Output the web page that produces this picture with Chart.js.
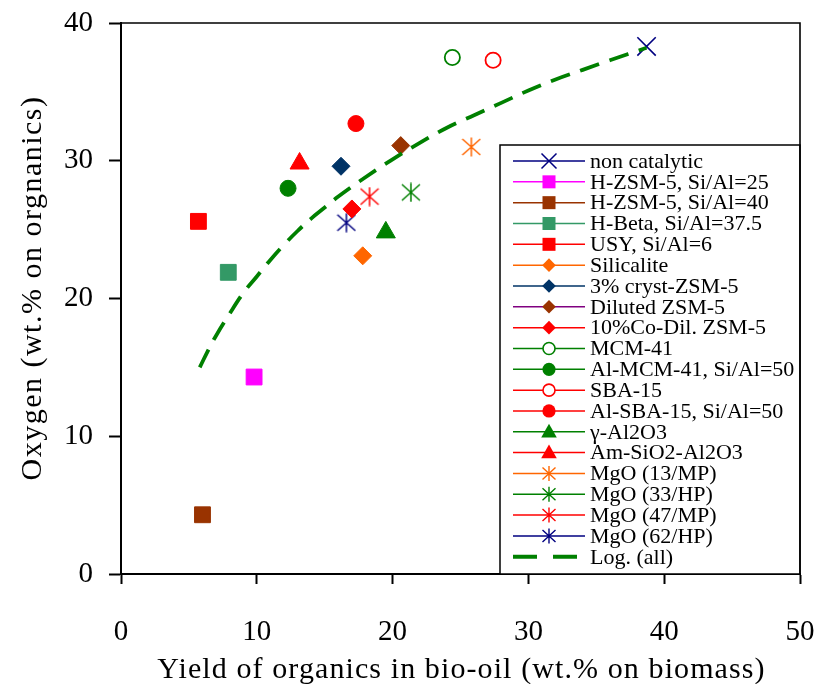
<!DOCTYPE html>
<html>
<head>
<meta charset="utf-8">
<script src="https://cdn.jsdelivr.net/npm/chart.js@4.4.1/dist/chart.umd.min.js"></script>
<style>
  html, body { margin: 0; padding: 0; background: #ffffff; }
  #wrap { width: 819px; height: 684px; }
</style>
</head>
<body>
<div id="wrap"><canvas id="c" width="819" height="684"></canvas></div>
<script>
// ---- data ----
const seriesNames = [
  'non catalytic', 'H-ZSM-5, Si/Al=25', 'H-ZSM-5, Si/Al=40', 'H-Beta, Si/Al=37.5',
  'USY, Si/Al=6', 'Silicalite', '3% cryst-ZSM-5', 'Diluted ZSM-5', '10%Co-Dil. ZSM-5',
  'MCM-41', 'Al-MCM-41, Si/Al=50', 'SBA-15', 'Al-SBA-15, Si/Al=50', '\u03b3-Al2O3',
  'Am-SiO2-Al2O3', 'MgO (13/MP)', 'MgO (33/HP)', 'MgO (47/MP)', 'MgO (62/HP)'
];
const yieldValues  = [38.7, 9.8, 6.0, 7.9, 5.7, 17.8, 16.2, 20.6, 17.0, 24.4, 12.3, 27.4, 17.3, 19.5, 13.15, 25.8, 21.35, 18.3, 16.6];
const oxygenValues = [38.3, 14.3, 4.3, 21.9, 25.6, 23.1, 29.6, 31.1, 26.5, 37.5, 28.0, 37.3, 32.7, 24.8, 29.8, 31.0, 27.7, 27.4, 25.5];
const markerColors = ['#000080', '#ff00ff', '#993300', '#339966', '#ff0000', '#ff6600', '#003366', '#993300', '#ff0000',
  '#008000', '#008000', '#ff0000', '#ff0000', '#008000', '#ff0000', '#ff6600', '#008000', '#ff0000', '#000080'];
const lineColors = ['#000080', '#ff00ff', '#993300', '#339966', '#ff0000', '#ff6600', '#003366', '#800080', '#ff0000',
  '#008000', '#008000', '#ff0000', '#ff0000', '#008000', '#ff0000', '#ff6600', '#008000', '#ff0000', '#000080'];
const markerKinds = ['x', 'square', 'square', 'square', 'square', 'diamond', 'diamond', 'diamond', 'diamond',
  'openCircle', 'circle', 'openCircle', 'circle', 'triangle', 'triangle', 'star', 'star', 'star', 'star'];

// logarithmic trend line through all catalysts
const trendName = 'Log. (all)';
const trendX = [5.8, 6.5, 7, 8, 9, 10, 11, 12, 13, 14, 15, 16, 18, 20, 22, 24, 26, 28, 30, 32, 34, 36, 38.7];
const trendY = [15.0, 16.4, 17.3, 18.9, 20.4, 21.6, 22.8, 23.9, 24.9, 25.8, 26.6, 27.4, 28.8, 30.1, 31.3, 32.4, 33.3, 34.2, 35.1, 35.9, 36.6, 37.3, 38.2];

const xTitle = 'Yield of organics in bio-oil (wt.% on biomass)';
const yTitle = 'Oxygen (wt.% on orgnanics)';
const xRange = [0, 50, 10];
const yRange = [0, 40, 10];

// ---- styling ----
const SERIF = '"Liberation Serif", "Times New Roman", serif';
const TREND_COLOR = '#008000';

function starCanvas(color, size, lw) {
  const c = document.createElement('canvas');
  c.width = size; c.height = size;
  const g = c.getContext('2d');
  g.strokeStyle = color; g.lineWidth = lw; g.lineCap = 'butt';
  const m = size / 2;
  g.beginPath();
  g.moveTo(m, 0.5); g.lineTo(m, size - 0.5);
  g.moveTo(1, size * 0.1); g.lineTo(size - 1, size * 0.9);
  g.moveTo(size - 1, size * 0.1); g.lineTo(1, size * 0.9);
  g.stroke();
  return c;
}

function pointOptions(kind, color) {
  switch (kind) {
    case 'x': return { pointStyle: 'crossRot', pointRadius: 13, pointBorderWidth: 1.6, pointBorderColor: color, pointBackgroundColor: color };
    case 'square': return { pointStyle: 'rect', pointRadius: 11.2, pointBorderWidth: 1, pointBorderColor: color, pointBackgroundColor: color };
    case 'diamond': return { pointStyle: 'rectRot', pointRadius: 9, pointBorderWidth: 1, pointBorderColor: color, pointBackgroundColor: color };
    case 'circle': return { pointStyle: 'circle', pointRadius: 8, pointBorderWidth: 1, pointBorderColor: color, pointBackgroundColor: color };
    case 'openCircle': return { pointStyle: 'circle', pointRadius: 7.6, pointBorderWidth: 1.8, pointBorderColor: color, pointBackgroundColor: '#ffffff' };
    case 'triangle': return { pointStyle: 'triangle', pointRadius: 11, pointBorderWidth: 1, pointBorderColor: color, pointBackgroundColor: color };
    case 'star': return { pointStyle: starCanvas(color, 20, 1.5), pointRadius: 10, pointBorderWidth: 0, pointBorderColor: color, pointBackgroundColor: color };
  }
}

const datasets = seriesNames.map((name, i) => Object.assign({
  label: name,
  data: [{ x: yieldValues[i], y: oxygenValues[i] }],
  showLine: false
}, pointOptions(markerKinds[i], markerColors[i])));

datasets.push({
  label: trendName,
  type: 'line',
  data: trendX.map((x, i) => ({ x: x, y: trendY[i] })),
  borderColor: TREND_COLOR,
  borderWidth: 3.8,
  borderDash: [20, 11],
  pointRadius: 0,
  fill: false,
  tension: 0.4,
  order: -1
});

// ---- legend drawn inside the plot, Excel style ----
function drawLegendMarker(ctx, kind, color, x, y) {
  ctx.save();
  ctx.fillStyle = color; ctx.strokeStyle = color; ctx.lineWidth = 1;
  ctx.beginPath();
  if (kind === 'square') {
    ctx.rect(x - 6.5, y - 6.5, 13, 13); ctx.fill();
  } else if (kind === 'diamond') {
    ctx.moveTo(x, y - 6.8); ctx.lineTo(x + 6.8, y); ctx.lineTo(x, y + 6.8); ctx.lineTo(x - 6.8, y); ctx.closePath(); ctx.fill();
  } else if (kind === 'circle') {
    ctx.arc(x, y, 6.6, 0, Math.PI * 2); ctx.fill();
  } else if (kind === 'openCircle') {
    ctx.arc(x, y, 6, 0, Math.PI * 2); ctx.fillStyle = '#ffffff'; ctx.fill(); ctx.lineWidth = 1.6; ctx.stroke();
  } else if (kind === 'triangle') {
    ctx.moveTo(x, y - 8); ctx.lineTo(x + 7.8, y + 5.6); ctx.lineTo(x - 7.8, y + 5.6); ctx.closePath(); ctx.fill();
  } else if (kind === 'x') {
    ctx.lineWidth = 1.5;
    ctx.moveTo(x - 7.5, y - 7.5); ctx.lineTo(x + 7.5, y + 7.5); ctx.moveTo(x + 7.5, y - 7.5); ctx.lineTo(x - 7.5, y + 7.5); ctx.stroke();
  } else if (kind === 'star') {
    ctx.lineWidth = 1.4;
    ctx.moveTo(x, y - 7.5); ctx.lineTo(x, y + 7.5);
    ctx.moveTo(x - 6.5, y - 6); ctx.lineTo(x + 6.5, y + 6);
    ctx.moveTo(x + 6.5, y - 6); ctx.lineTo(x - 6.5, y + 6);
    ctx.stroke();
  }
  ctx.restore();
}

const legendBox = {
  id: 'legendBox',
  afterDatasetsDraw(chart) {
    const ctx = chart.ctx;
    const area = chart.chartArea;
    const left = 500, top = 145, right = area.right, bottom = area.bottom;
    ctx.save();
    ctx.fillStyle = '#ffffff';
    ctx.fillRect(left, top, right - left, bottom - top);
    ctx.strokeStyle = '#000000'; ctx.lineWidth = 1.5;
    ctx.strokeRect(left, top, right - left, bottom - top);
    const rowH = 20.83, y0 = 161, lx0 = 513, lx1 = 585, mx = 549, tx = 590;
    ctx.font = '22px ' + SERIF;
    ctx.textBaseline = 'middle';
    ctx.textAlign = 'left';
    seriesNames.forEach((name, i) => {
      const y = y0 + i * rowH;
      ctx.strokeStyle = lineColors[i]; ctx.lineWidth = 1.5;
      ctx.beginPath(); ctx.moveTo(lx0, y); ctx.lineTo(lx1, y); ctx.stroke();
      drawLegendMarker(ctx, markerKinds[i], markerColors[i], mx, y);
      ctx.fillStyle = '#000000';
      ctx.fillText(name, tx, y + 1);
    });
    const yt = y0 + seriesNames.length * rowH;
    ctx.strokeStyle = TREND_COLOR; ctx.lineWidth = 4;
    ctx.beginPath(); ctx.moveTo(lx0, yt); ctx.lineTo(537, yt); ctx.moveTo(553, yt); ctx.lineTo(577, yt); ctx.stroke();
    ctx.fillStyle = '#000000';
    ctx.fillText(trendName, tx, yt + 1);
    ctx.restore();
  }
};

// ---- plot frame and axis titles ----
const frameAndTitles = {
  id: 'frameAndTitles',
  afterDraw(chart) {
    const ctx = chart.ctx;
    const a = chart.chartArea;
    ctx.save();
    ctx.strokeStyle = '#000000'; ctx.lineWidth = 1.6;
    ctx.beginPath();
    ctx.moveTo(a.left, a.top); ctx.lineTo(a.right, a.top); ctx.lineTo(a.right, a.bottom);
    ctx.stroke();
    ctx.fillStyle = '#000000';
    ctx.font = '30px ' + SERIF;
    if ('letterSpacing' in ctx) ctx.letterSpacing = '1.1px';
    ctx.textAlign = 'center';
    ctx.textBaseline = 'alphabetic';
    ctx.fillText(xTitle, (a.left + a.right) / 2 + 1, 678);
    ctx.translate(41, 288);
    ctx.rotate(-Math.PI / 2);
    if ('letterSpacing' in ctx) ctx.letterSpacing = '1.5px';
    ctx.fillText(yTitle, 0, 0);
    ctx.restore();
  }
};

new Chart(document.getElementById('c'), {
  type: 'scatter',
  data: { datasets: datasets },
  options: {
    responsive: false,
    devicePixelRatio: 1,
    animation: false,
    events: [],
    layout: { padding: { top: 23, right: 19, left: 0, bottom: 0 } },
    plugins: { legend: { display: false }, tooltip: { enabled: false } },
    scales: {
      x: {
        type: 'linear', min: xRange[0], max: xRange[1],
        ticks: { stepSize: xRange[2], color: '#000000', padding: 31, font: { family: SERIF, size: 29 } },
        grid: { display: true, drawOnChartArea: false, drawTicks: true, tickLength: 10, tickWidth: 2, tickColor: '#000000' },
        border: { display: true, color: '#000000', width: 2 },
        afterFit(s) { s.height = 110; s.paddingLeft = 0; s.paddingRight = 0; }
      },
      y: {
        type: 'linear', min: yRange[0], max: yRange[1],
        ticks: { stepSize: yRange[2], color: '#000000', padding: 16, font: { family: SERIF, size: 29 } },
        grid: { display: true, drawOnChartArea: false, drawTicks: true, tickLength: 12, tickWidth: 2, tickColor: '#000000' },
        border: { display: true, color: '#000000', width: 2 },
        afterFit(s) { s.width = 121; s.paddingTop = 0; s.paddingBottom = 0; }
      }
    }
  },
  plugins: [legendBox, frameAndTitles]
});
</script>
</body>
</html>
